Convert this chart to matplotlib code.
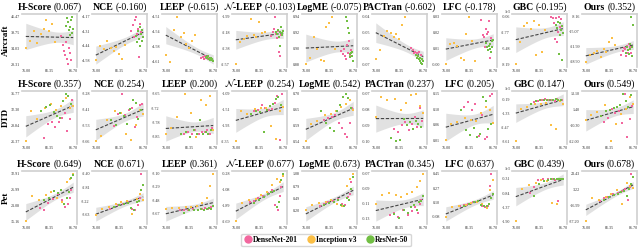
import matplotlib
matplotlib.use('Agg')
import matplotlib.pyplot as plt
import numpy as np
from matplotlib.offsetbox import TextArea, HPacker, AnchoredOffsetbox
from matplotlib.lines import Line2D

plt.rcParams['font.family'] = ['Liberation Serif', 'DejaVu Serif']
plt.rcParams['mathtext.fontset'] = 'stix'

METHODS = ['H-Score', 'NCE', 'LEEP', r'$\mathcal{N}$-LEEP', 'LogME', 'PACTran', 'LFC', 'GBC', 'Ours']
DATASETS = ['Aircraft', 'DTD', 'Pet']
MODELS = ['DenseNet-201', 'Inception v3', 'ResNet-50']
COLORS = ['#f2679e', '#fbbf45', '#72bf44']

CORR_AIR = [0.067, -0.160, -0.615, -0.103, -0.075, -0.602, -0.178, -0.195, 0.352]
CORR_DTD = [0.357, 0.254, 0.200, 0.254, 0.542, 0.237, 0.205, 0.147, 0.549]
CORR_PET = [0.649, 0.671, 0.361, 0.677, 0.673, 0.345, 0.637, 0.439, 0.678]

# fine-tuning accuracy of each checkpoint (dense, inception, resnet)
X_AIR = ([83.9, 84.3, 84.6, 84.9, 85.1, 85.3, 85.5, 85.7, 86.0, 86.3],
         [76.0, 76.9, 77.8, 78.6, 79.4, 80.0, 80.6, 81.2, 81.9, 82.7],
         [85.1, 85.4, 85.6, 85.8, 85.9, 86.0, 86.2, 86.4, 86.5, 86.7])
X_DTD = ([80.2, 81.0, 81.9, 82.7, 83.4, 84.1, 84.8, 85.4, 86.0, 86.5],
         [76.0, 77.2, 78.5, 80.3, 81.8, 82.9, 84.0, 85.1, 85.9, 86.7],
         [79.4, 80.6, 81.5, 82.3, 83.0, 83.7, 84.4, 85.0, 85.6, 86.2])
X_PET = ([79.2, 80.1, 81.0, 82.2, 83.3, 84.2, 84.9, 85.5, 85.9, 86.3],
         [76.0, 77.5, 79.0, 80.5, 81.8, 83.0, 84.2, 85.2, 86.0, 86.7],
         [80.0, 81.2, 82.3, 83.2, 84.0, 84.7, 85.3, 85.8, 86.3, 86.7])

# scores, Aircraft
AIR_HSCORE = ([38.5, 35.2, 33.0, 31.5, 36.4, 30.2, 28.31, 34.0, 32.2, 29.7],
              [34.2, 36.8, 40.5, 36.0, 39.2, 41.0, 44.3, 40.2, 43.0, 36.3],
              [42.0, 45.0, 43.5, 40.6, 38.8, 41.7, 44.2, 39.6, 45.47, 40.9])
AIR_NCE = ([-4.30, -4.25, -4.36, -4.20, -4.17, -4.33, -4.28, -4.55, -4.24, -4.31],
           [-4.58, -4.44, -4.47, -4.40, -4.46, -4.49, -4.45, -4.52, -4.57, -4.43],
           [-4.35, -4.41, -4.30, -4.38, -4.44, -4.27, -4.33, -4.40, -4.29, -4.36])
AIR_LEEP = ([-4.602, -4.600, -4.605, -4.598, -4.603, -4.600, -4.604, -4.601, -4.606, -4.603],
            [-4.595, -4.61, -4.54, -4.51, -4.555, -4.545, -4.57, -4.58, -4.565, -4.55],
            [-4.600, -4.602, -4.598, -4.604, -4.601, -4.606, -4.603, -4.605, -4.607, -4.608])
AIR_NLEEP = ([-2.22, -2.18, -2.14, -1.99, -2.20, -2.25, -2.16, -2.42, -2.47, -2.21],
             [-2.57, -2.30, -2.26, -2.23, -2.02, -2.21, -2.24, -2.05, -2.19, -2.17],
             [-2.17, -2.20, -2.15, -2.24, -2.18, -2.35, -2.12, -2.19, -2.21, -2.16])
AIR_LOGME = ([0.898, 0.895, 0.901, 0.892, 0.888, 0.905, 0.896, 0.910, 0.893, 0.899],
             [0.882, 0.889, 0.915, 0.900, 0.887, 0.886, 0.927, 0.932, 0.940, 0.900],
             [0.940, 0.935, 0.926, 0.920, 0.894, 0.891, 0.896, 0.892, 0.897, 0.886])
AIR_PACTRAN = ([-0.060, -0.061, -0.063, -0.062, -0.064, -0.063, -0.065, -0.062, -0.066, -0.064],
               [-0.067, -0.061, -0.052, -0.049, -0.050, -0.053, -0.051, -0.054, -0.045, -0.040],
               [-0.064, -0.066, -0.065, -0.067, -0.068, -0.066, -0.069, -0.067, -0.070, -0.068])
AIR_LFC = ([0.028, 0.018, 0.017, 0.010, 0.022, 0.019, 0.020, 0.027, 0.003, 0.016],
           [-0.001, 0.012, 0.013, 0.011, 0.003, 0.002, 0.019, 0.030, 0.014, 0.001],
           [0.013, 0.010, 0.008, 0.011, 0.009, 0.012, 0.007, 0.014, 0.010, 0.015])
AIR_GBC = ([-0.06, -0.30, -1.20, -3.90, -0.20, -4.30, -2.60, -0.10, -1.80, -0.40],
           [-8.19, -4.40, -1.70, -1.10, -2.10, -0.80, -6.60, -1.50, -6.10, -2.40],
           [-1.40, -2.00, -0.90, -6.50, -1.10, -3.20, -2.30, -7.50, -1.70, -2.80])
AIR_OURS = ([-25.50, -24.00, -22.50, -23.00, -26.00, -21.50, -24.80, -20.50, -22.00, -25.00],
            [-28.90, -25.50, -24.80, -24.00, -26.50, -22.80, -24.50, -19.50, -17.90, -21.00],
            [-24.60, -22.00, -23.50, -25.20, -20.80, -22.90, -8.16, -26.30, -21.80, -12.00])

# scores, DTD
DTD_HSCORE = ([26.0, 29.2, 29.5, 28.5, 29.6, 30.5, 31.5, 27.5, 30.2, 34.5],
              [25.37, 31.9, 30.2, 32.6, 33.5, 32.3, 33.0, 34.8, 32.6, 33.1],
              [32.0, 32.8, 33.4, 31.8, 31.0, 30.5, 34.2, 35.77, 35.4, 33.6])
DTD_NCE = ([-3.54, -3.44, -3.28, -3.45, -3.41, -3.39, -3.55, -3.47, -3.37, -3.36],
           [-3.66, -3.62, -3.49, -3.42, -3.43, -3.60, -3.65, -3.53, -3.41, -3.44],
           [-3.49, -3.53, -3.43, -3.46, -3.52, -3.40, -3.33, -3.35, -3.48, -3.41])
DTD_LEEP = ([-3.84, -3.83, -3.84, -3.82, -3.84, -3.83, -3.83, -3.82, -3.84, -3.81],
            [-3.84, -3.81, -3.76, -3.65, -3.74, -3.85, -3.68, -3.70, -3.66, -3.82],
            [-3.84, -3.83, -3.85, -3.82, -3.84, -3.77, -3.84, -3.83, -3.84, -3.82])
DTD_NLEEP = ([-1.55, -1.52, -1.40, -1.46, -1.53, -1.50, -1.34, -1.15, -2.32, -1.09],
             [-2.35, -1.55, -1.62, -1.50, -1.47, -1.48, -1.95, -2.30, -1.56, -1.45],
             [-1.62, -1.56, -1.58, -2.10, -1.52, -1.42, -1.35, -1.22, -1.18, -1.40])
DTD_LOGME = ([0.610, 0.615, 0.620, 0.625, 0.600, 0.580, 0.560, 0.550, 0.600, 0.650],
             [0.535, 0.595, 0.605, 0.625, 0.630, 0.640, 0.655, 0.665, 0.680, 0.645],
             [0.640, 0.600, 0.580, 0.570, 0.640, 0.660, 0.690, 0.700, 0.685, 0.650])
DTD_PACTRAN = ([-0.092, -0.094, -0.090, -0.088, -0.093, -0.089, -0.085, -0.091, -0.079, -0.087],
               [-0.085, -0.072, -0.074, -0.073, -0.080, -0.076, -0.071, -0.070, -0.078, -0.082],
               [-0.098, -0.100, -0.099, -0.086, -0.090, -0.088, -0.092, -0.087, -0.089, -0.091])
DTD_LFC = ([0.110, 0.125, 0.100, 0.120, 0.024, 0.085, 0.015, 0.020, 0.145, 0.150],
           [0.010, 0.058, 0.065, 0.078, 0.070, 0.068, 0.092, 0.110, 0.100, 0.062],
           [0.100, 0.040, 0.025, 0.048, 0.020, 0.028, 0.140, 0.130, 0.045, 0.060])
DTD_GBC = ([-0.40, -0.30, -0.25, -0.20, -0.22, -0.28, -0.35, -0.19, -0.30, -0.25],
           [-3.61, -0.95, -0.80, -0.60, -0.55, -0.45, -2.30, -2.60, -0.35, -0.60],
           [-0.60, -0.35, -0.28, -0.22, -0.24, -0.26, -0.21, -0.20, -0.23, -0.27])
DTD_OURS = ([-8.00, -5.00, 2.00, -1.00, 0.50, -8.50, 13.10, -19.00, -5.50, 4.00],
            [-6.00, -2.50, -0.50, 4.50, -22.00, -9.00, -2.00, 1.50, 10.50, 5.50],
            [-3.50, 0.50, 1.20, 2.50, 3.50, 4.80, 13.00, 8.00, 3.60, 12.20])

# scores, Pet
PET_HSCORE = ([20.2, 19.5, 21.8, 23.5, 25.5, 23.0, 20.5, 21.5, 24.0, 27.0],
              [15.16, 24.5, 23.0, 24.8, 26.2, 24.0, 22.5, 29.8, 31.0, 32.91],
              [23.2, 24.0, 26.5, 25.8, 27.0, 21.5, 23.8, 26.2, 31.5, 32.5])
PET_NCE = ([-3.45, -3.40, -3.33, -3.30, -3.25, -3.45, -3.50, -3.35, -3.12, -2.40],
           [-3.63, -3.45, -3.40, -3.30, -3.25, -3.22, -3.60, -3.15, -3.00, -3.20],
           [-3.40, -3.35, -3.30, -3.28, -3.42, -3.50, -3.26, -3.22, -2.90, -2.75])
PET_LEEP = ([-3.63, -3.62, -3.62, -3.61, -3.62, -3.61, -3.60, -3.61, -3.60, -3.58],
            [-3.61, -3.60, -3.59, -3.58, -3.58, -3.57, -3.52, -3.45, -3.27, -3.10],
            [-3.67, -3.63, -3.62, -3.62, -3.61, -3.62, -3.61, -3.60, -3.61, -3.57])
PET_NLEEP = ([-1.72, -1.65, -1.50, -1.40, -1.25, -1.10, -1.85, -2.10, -1.40, -0.95],
             [-2.69, -1.75, -1.62, -1.55, -1.35, -1.20, -0.85, -0.55, -0.70, -0.40],
             [-1.75, -1.62, -1.48, -1.30, -1.20, -1.15, -1.95, -1.70, -0.60, -0.28])
PET_LOGME = ([0.30, 0.35, 0.40, 0.42, 0.48, 0.35, 0.32, 0.52, 0.60, 0.88],
             [0.20, 0.32, 0.38, 0.40, 0.45, 0.35, 0.30, 0.78, 0.95, 1.08],
             [0.33, 0.38, 0.41, 0.45, 0.33, 0.30, 0.50, 0.45, 0.72, 1.00])
PET_PACTRAN = ([-0.125, -0.122, -0.128, -0.118, -0.125, -0.120, -0.115, -0.122, -0.110, -0.105],
               [-0.110, -0.098, -0.096, -0.099, -0.101, -0.097, -0.095, -0.088, -0.080, -0.070],
               [-0.124, -0.130, -0.119, -0.122, -0.115, -0.112, -0.118, -0.108, -0.106, -0.100])
PET_LFC = ([0.05, 0.07, 0.08, 0.10, 0.12, 0.05, 0.04, 0.06, 0.30, 0.45],
           [-0.08, 0.04, 0.06, 0.07, 0.09, 0.10, 0.08, 0.03, 0.25, 0.38],
           [0.06, 0.08, 0.10, 0.12, 0.07, 0.05, 0.06, 0.08, 0.15, 0.20])
PET_GBC = ([-0.85, -0.60, -0.36, -0.33, -0.32, -0.31, -0.34, -1.15, -0.33, -0.32],
           [-1.90, -0.70, -0.55, -0.45, -0.35, -0.38, -1.20, -1.25, -0.33, -0.32],
           [-0.95, -0.50, -0.40, -0.34, -0.32, -0.31, -0.33, -0.32, -0.31, -0.32])
PET_OURS = ([-12.00, -8.00, -6.00, -3.00, -1.00, 2.00, 4.00, -10.00, 6.00, 23.43],
            [-37.20, -8.00, -10.00, -6.00, -2.00, 3.00, -15.00, 12.00, 8.00, 5.00],
            [-10.00, -6.50, -4.00, -2.00, 0.50, 1.50, -5.00, 3.50, 10.00, 20.00])

ROWS = [
    (X_AIR, CORR_AIR, [AIR_HSCORE, AIR_NCE, AIR_LEEP, AIR_NLEEP, AIR_LOGME,
                       AIR_PACTRAN, AIR_LFC, AIR_GBC, AIR_OURS]),
    (X_DTD, CORR_DTD, [DTD_HSCORE, DTD_NCE, DTD_LEEP, DTD_NLEEP, DTD_LOGME,
                       DTD_PACTRAN, DTD_LFC, DTD_GBC, DTD_OURS]),
    (X_PET, CORR_PET, [PET_HSCORE, PET_NCE, PET_LEEP, PET_NLEEP, PET_LOGME,
                       PET_PACTRAN, PET_LFC, PET_GBC, PET_OURS]),
]


def reg_band(x, y, xs):
    """least squares line with 95% confidence band"""
    n = len(x)
    b, a = np.polyfit(x, y, 1)
    fit = a + b * xs
    resid = y - (a + b * x)
    s = np.sqrt(resid @ resid / (n - 2))
    sxx = ((x - x.mean()) ** 2).sum()
    half = 2.048 * s * np.sqrt(1 / n + (xs - x.mean()) ** 2 / sxx)
    return fit, half


W, H = 640, 249
fig = plt.figure(figsize=(W / 100, H / 100), dpi=100)

col_left = [22 + 70 * j for j in range(9)]
ax_w = 55
row_top = [14, 91, 171]
ax_h = 53

for i, (xs_row, corrs, panels) in enumerate(ROWS):
    for j, panel in enumerate(panels):
        ax = fig.add_axes([col_left[j] / W, 1 - (row_top[i] + ax_h) / H, ax_w / W, ax_h / H])
        x_all = np.concatenate([np.array(v) for v in xs_row])
        y_all = np.concatenate([np.array(v) for v in panel])
        for k in range(3):
            ax.scatter(xs_row[k], panel[k], s=3.5, color=COLORS[k], marker='s', linewidths=0, zorder=3)
        grid = np.linspace(x_all.min(), x_all.max(), 60)
        fit, half = reg_band(x_all, y_all, grid)
        ax.fill_between(grid, fit - half, fit + half, color='#dcdcdc', alpha=0.85, lw=0, zorder=1)
        ax.plot(grid, fit, color='#444444', lw=0.8, ls='--', dashes=(3, 1.5), zorder=2)

        ax.margins(x=0.08, y=0.06)
        ax.set_xticks(np.linspace(x_all.min(), x_all.max(), 3))
        ax.set_yticks(np.linspace(y_all.min(), y_all.max(), 4))
        ax.xaxis.set_major_formatter(plt.FormatStrFormatter('%.2f'))
        ax.yaxis.set_major_formatter(plt.FormatStrFormatter('%.2f'))
        ax.tick_params(length=0, labelsize=3.0, pad=1.5, colors='#333333')
        for side in ['left', 'bottom']:
            ax.spines[side].set_visible(False)
        for side in ['top', 'right']:
            ax.spines[side].set_color('#cfcfcf')
            ax.spines[side].set_linewidth(1.2)
        if METHODS[j] == 'GBC':
            ax.text(-0.03, 1.0, '1e3', transform=ax.transAxes, fontsize=3,
                    ha='right', va='bottom', color='#333333')

        title = HPacker(children=[
            TextArea(METHODS[j], textprops=dict(fontsize=7, fontweight='bold')),
            TextArea(f'({corrs[j]:.3f})', textprops=dict(fontsize=7))],
            align='baseline', pad=0, sep=1.5)
        ab = AnchoredOffsetbox(loc='lower center', child=title, pad=0, borderpad=0,
                               frameon=False, bbox_to_anchor=(0.5, 1.03),
                               bbox_transform=ax.transAxes)
        ax.add_artist(ab)

    fig.text(6 / W, 1 - (row_top[i] + ax_h / 2) / H, DATASETS[i], rotation=90,
             ha='center', va='center', fontsize=6.5, fontweight='bold')

handles = [Line2D([], [], marker='o', ls='', color=c, markersize=5) for c in COLORS]
fig.legend(handles, MODELS, loc='center', bbox_to_anchor=(326 / W, 1 - 240 / H),
           ncol=3, frameon=True, fancybox=True, edgecolor='#cccccc',
           prop=dict(size=5.5, weight='bold'), handletextpad=0.2, columnspacing=1.2,
           borderpad=0.3, handlelength=1.0)

fig.savefig('out.png', dpi=100)
